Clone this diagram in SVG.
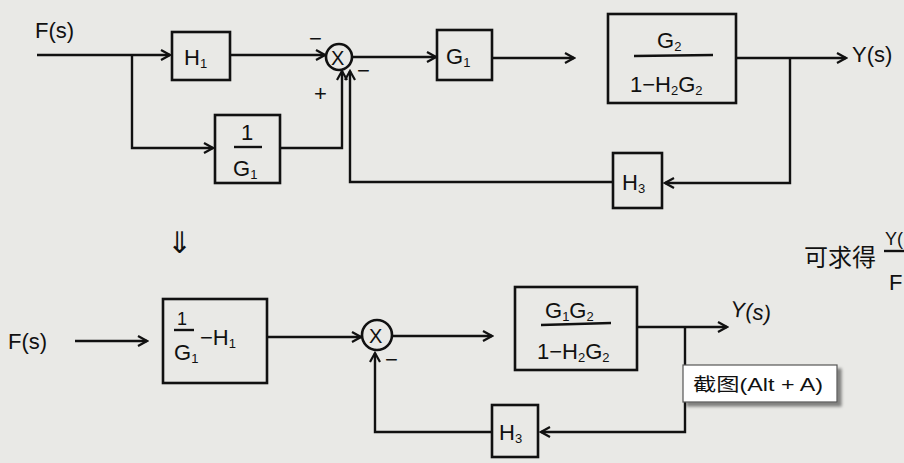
<svg xmlns="http://www.w3.org/2000/svg" width="904" height="463" viewBox="0 0 904 463">
<style>
.bx{fill:none;stroke:#111;stroke-width:2.6}
.ln{fill:none;stroke:#111;stroke-width:2.4}
.t{font-family:"Liberation Sans",Arial,sans-serif;fill:#111;font-size:22px}
.s{font-size:13px}
.cj{font-family:"Liberation Sans","Noto Sans CJK SC",sans-serif;fill:#111}
</style>
<defs>
<marker id="ah" markerWidth="12" markerHeight="12" refX="10" refY="6" orient="auto" markerUnits="userSpaceOnUse">
<path d="M1,1 L10,6 L1,11" fill="none" stroke="#111" stroke-width="2.2"/>
</marker>
<filter id="sh" x="-10%" y="-10%" width="130%" height="140%">
<feDropShadow dx="4" dy="4" stdDeviation="1.5" flood-color="#000" flood-opacity="0.45"/>
</filter>
</defs>
<rect width="904" height="463" fill="#e9e9e6"/>

<!-- connectors -->
<g id="connectors">
<!-- top -->
<path class="ln" d="M37,55 L170,55" marker-end="url(#ah)"/>
<path class="ln" d="M132,55 L132,148 L213,148" marker-end="url(#ah)"/>
<path class="ln" d="M230,55 L325,55" marker-end="url(#ah)"/>
<path class="ln" d="M280,148 L342,148 L342,71" marker-end="url(#ah)"/>
<path class="ln" d="M613,182 L350,182 L350,71" marker-end="url(#ah)"/>
<path class="ln" d="M351,57 L436,57" marker-end="url(#ah)"/>
<path class="ln" d="M492,58 L574,58" marker-end="url(#ah)"/>
<path class="ln" d="M736,58 L846,58" marker-end="url(#ah)"/>
<path class="ln" d="M790,58 L790,183 L665,183" marker-end="url(#ah)"/>
<!-- bottom -->
<path class="ln" d="M75,341 L147,341" marker-end="url(#ah)"/>
<path class="ln" d="M267,337 L361,337" marker-end="url(#ah)"/>
<path class="ln" d="M393,336 L492,336" marker-end="url(#ah)"/>
<path class="ln" d="M637,327 L727,327" marker-end="url(#ah)"/>
<path class="ln" d="M685,327 L685,432 L541,432" marker-end="url(#ah)"/>
<path class="ln" d="M492,432 L375,432 L375,353" marker-end="url(#ah)"/>
</g>

<!-- top row nodes -->
<text class="t" x="35" y="38">F(s)</text>
<g id="H1"><rect class="bx" x="172" y="32" width="58" height="48"/><text class="t" x="184" y="65">H<tspan class="s" dy="3">1</tspan></text></g>
<g id="invG1"><rect class="bx" x="215" y="115" width="65" height="68"/>
<text class="t" x="241" y="140">1</text><line class="ln" x1="234" y1="147" x2="262" y2="147"/>
<text class="t" x="233" y="176">G<tspan class="s" dy="3">1</tspan></text></g>
<g id="sum1"><circle class="bx" cx="339" cy="57" r="13"/><text class="t" x="331" y="65" style="font-size:20px">X</text>
<text class="t" x="309" y="46">−</text><text class="t" x="357" y="78">−</text><text class="t" x="314" y="101">+</text></g>
<g id="G1"><rect class="bx" x="437" y="30" width="55" height="50"/><text class="t" x="446" y="64">G<tspan class="s" dy="3">1</tspan></text></g>
<g id="G2blk"><rect class="bx" x="608" y="14" width="128" height="89"/>
<text class="t" x="657" y="48">G<tspan class="s" dy="3">2</tspan></text>
<line class="ln" x1="634" y1="56" x2="713" y2="55"/>
<text class="t" x="630" y="92">1−H<tspan class="s" dy="3">2</tspan><tspan dy="-3">G</tspan><tspan class="s" dy="3">2</tspan></text></g>
<text class="t" x="852" y="62">Y(s)</text>
<g id="H3top"><rect class="bx" x="613" y="153" width="49" height="55"/><text class="t" x="622" y="190">H<tspan class="s" dy="3">3</tspan></text></g>

<text class="t" x="167" y="253" style="font-size:30px">⇓</text>

<!-- right side note -->
<text class="cj" x="804" y="266" style="font-size:24px">可求得</text>
<text class="t" x="885" y="245" style="font-size:18px">Y(</text>
<line class="ln" x1="884" y1="251" x2="904" y2="251"/>
<text class="t" x="889" y="290">F</text>

<!-- bottom row -->
<text class="t" x="8" y="349">F(s)</text>
<g id="eq1"><rect class="bx" x="163" y="299" width="104" height="84"/>
<text class="t" x="177" y="325" style="font-size:18px">1</text>
<line class="ln" x1="174" y1="330" x2="194" y2="330"/>
<text class="t" x="174" y="360">G<tspan class="s" dy="3">1</tspan></text>
<text class="t" x="200" y="345">−H<tspan class="s" dy="3">1</tspan></text></g>
<g id="sum2"><circle class="bx" cx="377" cy="335" r="15"/><text class="t" x="369" y="343" style="font-size:20px">X</text>
<text class="t" x="385" y="367">−</text></g>
<g id="eq2"><rect class="bx" x="515" y="287" width="122" height="83"/>
<text class="t" x="545" y="318">G<tspan class="s" dy="3">1</tspan><tspan dy="-3">G</tspan><tspan class="s" dy="3">2</tspan></text>
<line class="ln" x1="541" y1="325" x2="611" y2="323"/>
<text class="t" x="537" y="359">1−H<tspan class="s" dy="3">2</tspan><tspan dy="-3">G</tspan><tspan class="s" dy="3">2</tspan></text></g>
<text class="t" x="731" y="318" transform="rotate(8 745 310)">Y(s)</text>
<g id="H3bot"><rect class="bx" x="492" y="405" width="46" height="52"/><text class="t" x="499" y="440">H<tspan class="s" dy="3">3</tspan></text></g>

<!-- tooltip -->
<g id="tooltip"><rect x="683" y="365" width="154" height="37" fill="#fff" stroke="#555" stroke-width="1.2" filter="url(#sh)"/>
<text class="cj" x="693" y="391" style="font-size:18px" textLength="130" lengthAdjust="spacingAndGlyphs">截图(Alt + A)</text></g>
</svg>
